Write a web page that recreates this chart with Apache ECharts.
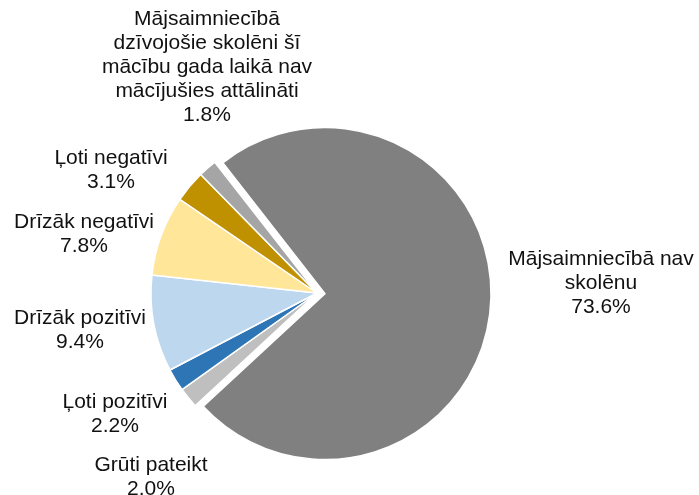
<!DOCTYPE html>
<html>
<head>
<meta charset="utf-8">
<script src="https://cdn.jsdelivr.net/npm/echarts@6/dist/echarts.min.js"></script>
<style>
  html, body { margin: 0; padding: 0; background: #fff; }
  #chart { width: 699px; height: 495px; }
</style>
</head>
<body>
<div id="chart"></div>
<script>
// slices, clockwise from the big one
var names = [
  'Mājsaimniecībā nav\nskolēnu',
  'Grūti pateikt',
  'Ļoti pozitīvi',
  'Drīzāk pozitīvi',
  'Drīzāk negatīvi',
  'Ļoti negatīvi',
  'Mājsaimniecībā\ndzīvojošie skolēni šī\nmācību gada laikā nav\nmācījušies attālināti'
];
var values = [73.6, 2.0, 2.2, 9.4, 7.8, 3.1, 1.8];
var colors = ['#808080', '#bfbfbf', '#2e75b6', '#bdd7ee', '#ffe699', '#bf9000', '#a5a5a5'];

(function() {
  var chart = echarts.init(document.getElementById('chart'), null, { renderer: 'canvas' });

  // label anchor points (centre of each text block)
  var labelAt = [
    [601, 283], [151, 477], [115, 414], [80, 330],
    [84, 234], [111, 170], [207, 67]
  ];
  var exploded = 0; // the big slice is pulled out of the pie

  // same data in two layers: one draws the exploded slice, shifted, the other the rest
  function layer(showExploded) {
    return values.map(function(v, i) {
      var mine = (i === exploded) === showExploded;
      return {
        name: names[i],
        value: v,
        itemStyle: mine ? { color: colors[i] } : { color: 'rgba(0,0,0,0)', borderWidth: 0 },
        label: { show: mine }
      };
    });
  }

  var base = {
    type: 'pie',
    radius: [0, 166],
    startAngle: 128,
    clockwise: true,
    silent: true,
    emphasis: { disabled: true },
    itemStyle: { borderColor: '#fff', borderWidth: 1.5 },
    label: {
      show: true,
      position: 'outside',
      alignTo: 'none',
      color: '#111',
      fontSize: 21,
      lineHeight: 24,
      overflow: 'none',
      fontFamily: 'Liberation Sans, Arial, sans-serif',
      align: 'center',
      formatter: function(p) { return p.name + '\n' + p.value.toFixed(1) + '%'; }
    },
    labelLine: { show: false },
    labelLayout: function(p) {
      var pt = labelAt[p.dataIndex];
      return { x: pt[0], y: pt[1], align: 'center', verticalAlign: 'middle' };
    }
  };

  chart.setOption({
    animation: false,
    series: [
      Object.assign({}, base, { center: [317, 293], data: layer(false) }),
      Object.assign({}, base, { center: [325, 293.6], data: layer(true) })
    ]
  });

  window.addEventListener('resize', function() { chart.resize(); });
})();
</script>
</body>
</html>
